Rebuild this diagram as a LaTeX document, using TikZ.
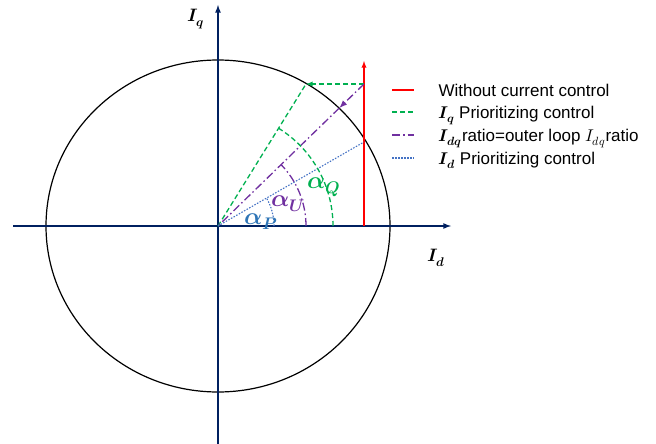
\documentclass[tikz,border=0pt]{standalone}
\usepackage{amsmath}
\usepackage{fontspec}
\usepackage{unicode-math}
\setmainfont{Liberation Sans}
\setmathfont{Latin Modern Math}
\usetikzlibrary{arrows.meta,calc,positioning}
\definecolor{axisblue}{RGB}{0,32,96}
\definecolor{ctrlgreen}{RGB}{0,176,80}
\definecolor{ctrlpurple}{RGB}{112,48,160}
\definecolor{ctrlblue}{RGB}{68,114,196}
\definecolor{labelblue}{RGB}{46,117,182}
\tikzset{
  axisline/.style={-latex, line width=1.6pt, axisblue},
  greendash/.style={ctrlgreen, line width=1.3pt, dash pattern=on 5pt off 3pt},
  purpledashdot/.style={ctrlpurple, line width=1.3pt, dash pattern=on 8pt off 3pt on 1.5pt off 3pt},
  bluedot/.style={ctrlblue, line width=1.1pt, dash pattern=on 1.5pt off 1.5pt},
  anglelabel/.style={font=\fontsize{24}{28}\selectfont, inner sep=0pt, anchor=base west},
  axislabel/.style={font=\fontsize{18}{22}\selectfont}
}
\begin{document}
\begin{tikzpicture}[x=1pt,y=-1pt,font=\fontsize{17}{20}\selectfont]
      \useasboundingbox (0,0) rectangle (656,444);
      % Define coordinates
      \coordinate (O) at (218,226);
      \coordinate (P) at (364,84);
      \coordinate (Q) at (306,84);
      \coordinate (M) at (339.2,108.1);
      \coordinate (D) at (364,142);
      % Current limit circle
      \draw[line width=1.2pt] (O) ellipse [x radius=172, y radius=166];
      % Axes
      \coordinate (xl) at (13,226);
      \coordinate (xr) at (451,226);
      \coordinate (yb) at (218,444);
      \coordinate (yt) at (218,5);
      \draw[axisline] (xl) -- (xr);
      \draw[axisline] (yb) -- (yt);
      \node[axislabel] (Id) at (436,258) {$\symbfit{I}_{\symbfit{d}}$};
      \node[axislabel] (Iq) at (196,19) {$\symbfit{I}_{\symbfit{q}}$};
      % Without current control
      \draw[-latex, red, line width=1.3pt] (364,226) -- (364,61);
      % Iq prioritizing
      \draw[greendash, -latex] (P) -- (Q);
      \draw[greendash] (O) -- (Q);
      % Idq ratio
      \draw[purpledashdot, -{Latex[length=8pt,width=6pt]}] (P) -- (M);
      \draw[purpledashdot] (M) -- (O);
      % Id prioritizing
      \draw[bluedot] (O) -- (D);
      % Angles
      \draw[greendash] ($(O)+(115,0)$) arc [start angle=0, end angle=58.2, x radius=115, y radius=-115];
      \draw[purpledashdot] ($(O)+(88,0)$) arc [start angle=0, end angle=44.2, x radius=88, y radius=-88];
      \draw[bluedot] ($(O)+(56,0)$) arc [start angle=0, end angle=29.9, x radius=56, y radius=-56];
      \node[anglelabel, ctrlgreen] (aQ) at (307,188) {$\symbfit{\alpha}_{\symbfit{Q}}$};
      \node[anglelabel, ctrlpurple] (aU) at (271,206) {$\symbfit{\alpha}_{\symbfit{U}}$};
      \node[anglelabel, labelblue] (aP) at (244,224) {$\symbfit{\alpha}_{\symbfit{P}}$};
      % Legend
      \node[anchor=base west] (legred) at (435,96) {Without current control};
      \node[anchor=base west] (leggreen) at (435,118) {$\symbfit{I}_{\symbfit{q}}$ Prioritizing control};
      \node[anchor=base west] (legpurple) at (435,141) {$\symbfit{I}_{\symbfit{dq}}$ratio=outer loop $I_{dq}$ratio};
      \node[anchor=base west] (legblue) at (435,164) {$\symbfit{I}_{\symbfit{d}}$ Prioritizing control};
      \draw[red, line width=1.3pt] (392,90) -- (414,90);
      \draw[greendash] (392,112) -- (414,112);
      \draw[purpledashdot] (392,135) -- (414,135);
      \draw[bluedot] (392,158) -- (414,158);
    \end{tikzpicture}
\end{document}
